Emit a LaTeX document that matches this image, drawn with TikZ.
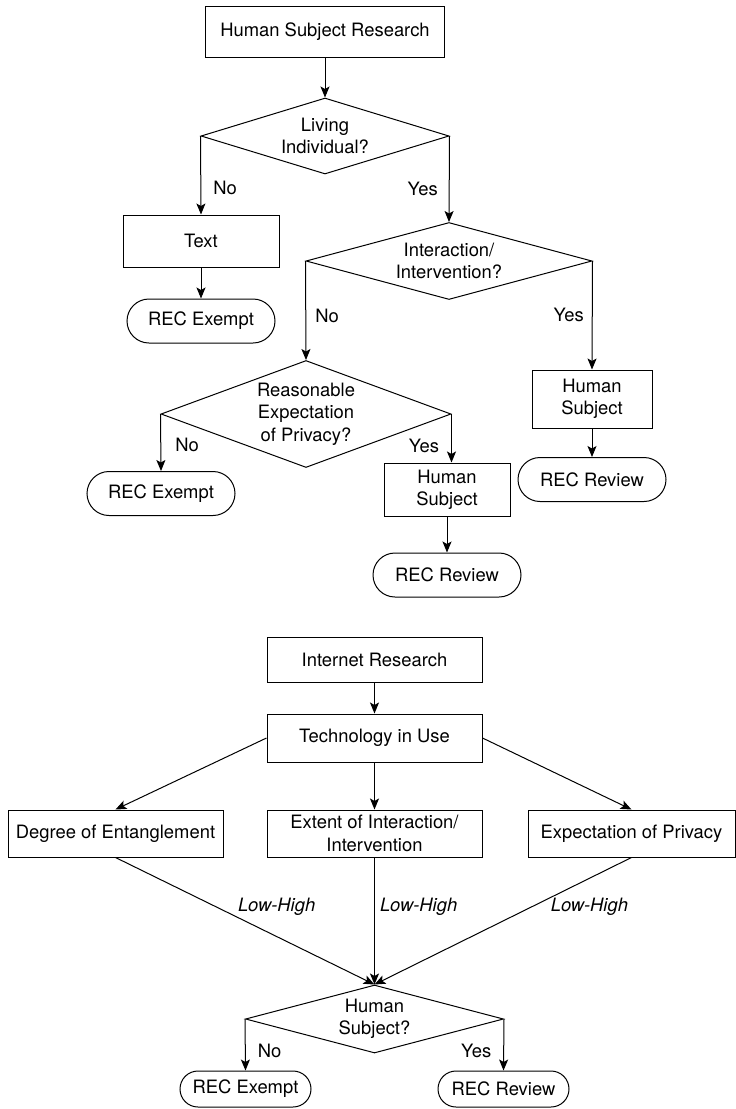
\documentclass[tikz,border=0pt]{standalone}
\usepackage{fontspec}
\setmainfont{TeX Gyre Heros}
\usetikzlibrary{shapes.geometric,shapes.misc,arrows.meta}
\begin{document}
\begin{tikzpicture}[x=1pt,y=-1pt,
  font=\fontsize{18.4}{22.3}\selectfont,
  line width=1pt,
  every node/.style={inner sep=0pt},
  box/.style={draw, rectangle, align=center},
  term/.style={draw, rounded rectangle, minimum width=148pt, minimum height=44pt},
  smallterm/.style={draw, rounded rectangle, minimum width=131pt, minimum height=36pt},
  decision/.style={draw, diamond, align=center},
  arr/.style={-{Stealth[length=11pt,width=9pt,inset=2.5pt]}},
  lblR/.style={anchor=west},
  lblL/.style={anchor=east},
  lowhigh/.style={anchor=west, font=\fontsize{18.4}{22.3}\selectfont\itshape},
]
\useasboundingbox (0,0) rectangle (736,1109);

% ---------- human subject research flow ----------
\node[box, minimum width=239pt, minimum height=51pt] (hsr) at (325,31.5) {Human Subject Research};
\node[decision, minimum width=248pt, minimum height=76pt, shape aspect=3.26] (d1) at (325,136) {Living\\Individual?};
\node[box, minimum width=156pt, minimum height=52pt] (txt) at (201,241) {Text};
\node[term] (ex1) at (201,321) {REC Exempt};
\node[decision, minimum width=286pt, minimum height=77pt, shape aspect=3.71] (d2) at (449,261) {Interaction/\\Intervention?};
\node[decision, minimum width=290pt, minimum height=107pt, shape aspect=2.71] (d3) at (306,414) {Reasonable\\Expectation\\of Privacy?};
\node[box, minimum width=120pt, minimum height=58pt] (hsR) at (592,399) {Human\\Subject};
\node[term] (rvR) at (592,479.5) {REC Review};
\node[box, minimum width=126pt, minimum height=53pt] (hs2) at (447,489.5) {Human\\Subject};
\node[term] (rv2) at (447,575) {REC Review};
\node[term] (ex2) at (161,493.5) {REC Exempt};

\draw[arr] (hsr.south) -- (d1.north);
\draw[arr] (d1.west) -- node[lblR, pos=0.66, xshift=12pt] {No} (txt.north);
\draw[arr] (d1.east) -- node[lblL, pos=0.61, xshift=-11pt] {Yes} (d2.north);
\draw[arr] (txt.south) -- (ex1.north);
\draw[arr] (d2.west) -- node[lblR, pos=0.55, xshift=9pt] {No} (d3.north);
\draw[arr] (d2.east) -- node[lblL, pos=0.5, xshift=-8pt] {Yes} (hsR.north);
\draw[arr] (hsR.south) -- (rvR.north);
\draw[arr] (d3.west) -- node[lblR, pos=0.55, xshift=14pt] {No} (ex2.north);
\draw[arr] (d3.east) -- node[lblL, pos=0.65, xshift=-12pt] {Yes} (d3.east |- hs2.north);
\draw[arr] (hs2.south) -- (rv2.north);

% ---------- internet research flow ----------
\node[box, minimum width=215pt, minimum height=45pt] (ir) at (374.5,659.5) {Internet Research};
\node[box, minimum width=215pt, minimum height=48pt] (tech) at (374.5,738) {Technology in Use};
\node[box, minimum width=215pt, minimum height=47pt] (deg) at (115.5,833.5) {Degree of Entanglement};
\node[box, minimum width=215pt, minimum height=47pt] (ext) at (374.5,833.5) {Extent of Interaction/\\Intervention};
\node[box, minimum width=207pt, minimum height=47pt] (expv) at (631.5,833.5) {Expectation of Privacy};
\node[decision, minimum width=258pt, minimum height=68pt, shape aspect=3.79] (d4) at (374.5,1019) {Human\\Subject?};
\node[smallterm] (ex3) at (245.5,1089) {REC Exempt};
\node[smallterm] (rv3) at (503.5,1089) {REC Review};

\draw[arr] (ir.south) -- (tech.north);
\draw[arr] (tech.west) -- (deg.north);
\draw[arr] (tech.south) -- (ext.north);
\draw[arr] (tech.east) -- (expv.north);
\draw[arr] (deg.south) -- node[lowhigh, pos=0.39, xshift=21pt] {Low-High} (d4.north);
\draw[arr] (ext.south) -- node[lowhigh, pos=0.39, xshift=5pt] {Low-High} (d4.north);
\draw[arr] (expv.south) -- node[lowhigh, pos=0.39, xshift=19pt] {Low-High} (d4.north);
\draw[arr] (d4.west) -- node[lblR, pos=0.62, xshift=12pt] {No} (ex3.north);
\draw[arr] (d4.east) -- node[lblL, pos=0.62, xshift=-12pt] {Yes} (rv3.north);
\end{tikzpicture}
\end{document}
